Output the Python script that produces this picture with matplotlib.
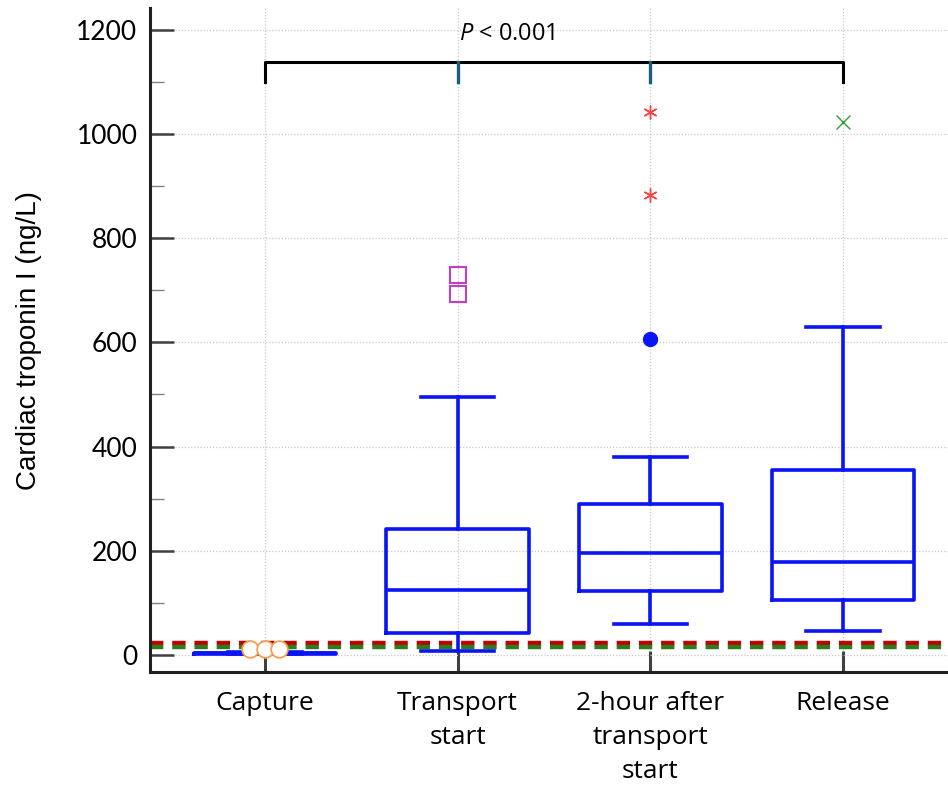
import matplotlib
matplotlib.use("Agg")
import matplotlib.pyplot as plt
import numpy as np

plt.rcParams['font.family'] = ['Lato', 'DejaVu Sans']
plt.rcParams['mathtext.fontset'] = 'custom'
plt.rcParams['mathtext.rm'] = 'Open Sans'
plt.rcParams['mathtext.it'] = 'Open Sans:italic'

# ---- data ----
categories = ["Capture", "Transport\nstart", "2-hour after\ntransport\nstart", "Release"]
whislo = [1, 8, 60, 46]
q1 = [2, 42, 123, 106]
med = [3, 125, 196, 179]
q3 = [4, 242, 290, 355]
whishi = [6, 495, 380, 630]

capture_outliers = [12, 12, 12]
transport_outliers = [693, 729]
twohour_outliers = [606]
twohour_farout = [883, 1042]
release_outliers = [1023]

ref_red = 22
ref_green = 15
p_label = r"$\mathit{P}$ < 0.001"
bracket_y = 1138
bracket_drop = 38

yticks = [0, 200, 400, 600, 800, 1000, 1200]
ylabel = "Cardiac troponin I (ng/L)"

# ---- figure ----
fig = plt.figure(figsize=(9.48, 7.85), dpi=100)
ax = fig.add_axes([150/948, 1-672/785, 1-150/948, (672-8)/785])

positions = np.arange(1, len(categories) + 1)
stats = [dict(whislo=a, q1=b, med=c, q3=d, whishi=e, fliers=[])
         for a, b, c, d, e in zip(whislo, q1, med, q3, whishi)]

blue = "#0a14f5"
lw = 2.6
ax.bxp(stats, positions=positions, widths=0.74, showfliers=False,
       boxprops=dict(color=blue, lw=lw),
       medianprops=dict(color=blue, lw=lw),
       whiskerprops=dict(color=blue, lw=lw),
       capprops=dict(color=blue, lw=lw),
       capwidths=0.38, zorder=3)

# reference lines
ax.axhline(ref_red, color="#c00000", lw=3.2, ls=(0, (3, 2)), zorder=2)
ax.axhline(ref_green, color="#2e7d1c", lw=3.2, ls=(0, (3, 2)), zorder=2)

# outliers
offs = [-0.078, 0.0, 0.073]
ax.plot(positions[0] + np.array(offs), capture_outliers, ls='none', marker='o',
        ms=12, mfc='white', mec='#f5a050', mew=1.3, zorder=4)
ax.plot([positions[1]] * len(transport_outliers), transport_outliers, ls='none',
        marker='s', ms=11, mfc='none', mec='#c040c0', mew=1.5, zorder=4)
ax.plot([positions[2]] * len(twohour_outliers), twohour_outliers, ls='none',
        marker='o', ms=10, mfc=blue, mec=blue, zorder=4)
ax.plot([positions[2]] * len(twohour_farout), twohour_farout, ls='none',
        marker=(6, 2, 0), ms=10, mec='#ff4040', mew=1.0, zorder=4)
ax.plot([positions[3]] * len(release_outliers), release_outliers, ls='none',
        marker='x', ms=10, mec='#30a030', mew=1.0, zorder=4)

# bracket
x0, x1 = positions[0], positions[-1]
ax.plot([x0, x0, x1, x1], [bracket_y - bracket_drop, bracket_y, bracket_y, bracket_y - bracket_drop],
        color='black', lw=2.2, solid_joinstyle='round', zorder=5)
for p in positions[1:-1]:
    ax.plot([p, p], [bracket_y - bracket_drop, bracket_y], color='#16607e', lw=2.4, zorder=6)
ax.text((positions[1] + positions[2]) / 2 - 0.245, 1192, p_label, ha='center', va='center',
        fontsize=17, family=['Open Sans', 'DejaVu Sans'])

# axes styling
ax.set_xlim(0.403, 4.545)
ax.set_ylim(-33, 1242)
ax.set_xticks(positions)
ax.set_xticklabels(categories, fontsize=19, linespacing=1.45,
                   family=['Open Sans', 'DejaVu Sans'])
ax.set_yticks(yticks)
ax.set_yticks(np.arange(100, 1200, 200), minor=True)
ax.tick_params(axis='y', labelsize=19, direction='in', length=17, width=1.8, color='#404040', pad=9)
ax.tick_params(axis='y', which='minor', direction='in', length=10, width=1.0, color='#808080')
ax.tick_params(axis='x', direction='in', length=15, width=2.2, color='#404040', pad=14)
ax.set_ylabel(ylabel, fontsize=20, labelpad=25, family=['Liberation Sans', 'DejaVu Sans'])
ax.grid(True, which='major', ls=(0, (1, 1.5)), color='#c8c8c8', lw=0.9, zorder=0)
ax.set_axisbelow(True)
for s in ['top', 'right']:
    ax.spines[s].set_visible(False)
for s in ['left', 'bottom']:
    ax.spines[s].set_linewidth(2.2)
    ax.spines[s].set_color('#202020')

fig.savefig("out.png", dpi=100)
